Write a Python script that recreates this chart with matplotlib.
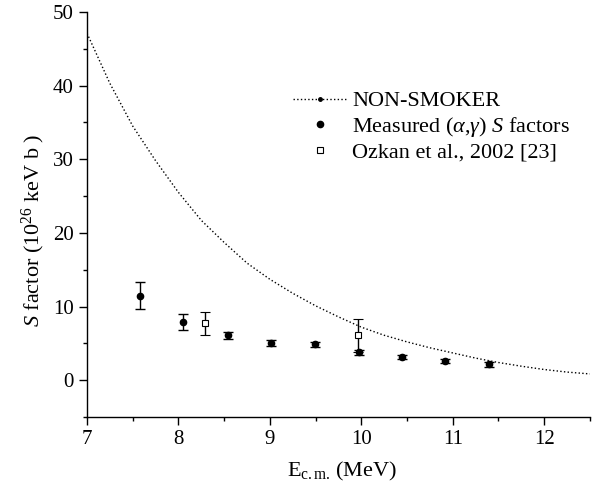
"""S factor versus c.m. energy, NON-SMOKER curve and measured points"""

import numpy as np
import matplotlib
matplotlib.use('Agg')
import matplotlib.pyplot as plt
from matplotlib.lines import Line2D

plt.rcParams['font.family'] = 'Liberation Serif'
plt.rcParams['mathtext.fontset'] = 'custom'
plt.rcParams['mathtext.rm'] = 'Liberation Serif'
plt.rcParams['mathtext.it'] = 'Liberation Serif:italic'

# NON-SMOKER calculation
e_theory = [7.0, 7.25, 7.5, 7.75, 8.0, 8.25, 8.5, 8.75, 9.0, 9.25, 9.5, 9.75,
            10.0, 10.25, 10.5, 10.75, 11.0, 11.25, 11.5, 11.75, 12.0, 12.25, 12.5]
s_theory = [47.1, 40.3, 34.5, 29.8, 25.5, 21.7, 18.7, 15.9, 13.7, 11.8, 10.1, 8.6,
            7.2, 6.1, 5.2, 4.4, 3.7, 3.0, 2.4, 1.9, 1.45, 1.1, 0.85]

# measured (alpha,gamma) S factors
e_meas = [7.58, 8.05, 8.54, 9.01, 9.49, 9.97, 10.44, 10.92, 11.40]
s_meas = [11.45, 7.95, 6.07, 5.07, 4.85, 3.8, 3.17, 2.63, 2.13]
err_meas = [1.85, 1.1, 0.5, 0.45, 0.4, 0.35, 0.3, 0.3, 0.3]

# Ozkan et al., 2002
e_ozkan = [8.29, 9.96]
s_ozkan = [7.74, 6.1]
err_ozkan = [1.55, 2.25]

fig = plt.figure(figsize=(5.94, 4.91), dpi=100)
ax = fig.add_axes([0.1465, 0.1507, 0.8465, 0.825])

ax.plot(e_theory, s_theory, ls=':', color='black', lw=1.0)
ax.errorbar(e_meas, s_meas, yerr=err_meas, fmt='o', color='black', ms=4.5,
            capsize=3.3, elinewidth=1.0, capthick=1.0)
ax.errorbar(e_ozkan, s_ozkan, yerr=err_ozkan, fmt='s', color='black', mfc='white',
            ms=3.8, mew=0.8, capsize=3.3, elinewidth=1.0, capthick=1.0)

ax.set_xlim(7, 12.5)
ax.set_ylim(-5, 50)
ax.set_xticks([7, 8, 9, 10, 11, 12])
ax.set_xticks(np.arange(7.5, 12.6, 1.0), minor=True)
ax.set_yticks([0, 10, 20, 30, 40, 50])
ax.set_yticks([-5, 5, 15, 25, 35, 45], minor=True)

ax.spines['top'].set_visible(False)
ax.spines['right'].set_visible(False)
for s in ['left', 'bottom']:
    ax.spines[s].set_linewidth(1.0)
ax.tick_params(which='major', direction='out', length=6, width=1.0, labelsize=15)
ax.tick_params(which='minor', direction='out', length=3, width=1.0)

ax.set_xlabel(r'E$_{\mathregular{c.m.}}$$\,$(MeV)', fontsize=16)
ax.set_ylabel(r'$\it{S}$ factor (10$^{26}$ keV b )', fontsize=16)
ax.xaxis.set_label_coords(0.507, -0.105)
ax.yaxis.set_label_coords(-0.08, 0.46)

handles = [Line2D([], [], ls=':', color='black', lw=1.0, marker='o', ms=2.5),
           Line2D([], [], ls='none', color='black', marker='o', ms=4.5),
           Line2D([], [], ls='none', color='black', marker='s', mfc='white', ms=3.8, mew=0.8)]
labels = ['NON-SMOKER', r'Measured ($\alpha$,$\gamma$) $\it{S}$ factors',
          'Ozkan et al., 2002 [23]']
ax.legend(handles, labels, loc='upper left', bbox_to_anchor=(0.41, 0.805),
          frameon=False, fontsize=16, handlelength=2.4, handletextpad=0.25,
          labelspacing=0.15, borderaxespad=0, borderpad=0)

fig.savefig('out.png', dpi=100)
